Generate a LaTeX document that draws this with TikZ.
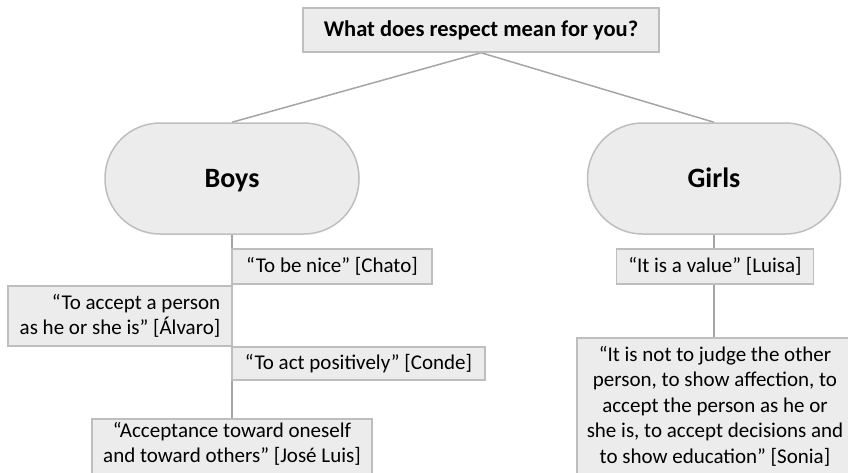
\documentclass[tikz,border=0pt]{standalone}
\usepackage{fontspec}
\setmainfont{Carlito}
\usetikzlibrary{backgrounds}
\definecolor{boxfill}{RGB}{236,236,236}
\definecolor{boxdraw}{RGB}{190,190,190}
\definecolor{linkcol}{RGB}{165,165,165}
\begin{document}
\begin{tikzpicture}[x=1pt,y=-1pt,
  box/.style={draw=boxdraw,fill=boxfill,line width=1.5pt,inner sep=0pt,rectangle},
  pill/.style={box,rounded corners=55pt,font=\fontsize{28}{34}\selectfont\bfseries,text height=18pt,text depth=0pt},
  quote/.style={box,font=\fontsize{21}{25.5}\selectfont,align=center},
  qtext/.style={inner sep=0pt,font=\fontsize{21}{25.5}\selectfont,align=center},
  link/.style={draw=linkcol,line width=1.5pt}]
\useasboundingbox (0,0) rectangle (848,472);
\clip (0,0) rectangle (848,472);

\node[box,minimum width=356pt,minimum height=44pt,font=\fontsize{22.5}{27}\selectfont\bfseries] (q) at (481,30) {What does respect mean for you?};
\node[pill,minimum width=254pt,minimum height=111pt] (boys) at (232,178.5) {Boys};
\node[pill,minimum width=253pt,minimum height=111pt] (girls) at (714,178.5) {Girls};

\node[quote,minimum width=200pt,minimum height=35pt] (chato) at (332,266.5) {“To be nice” [Chato]};
\node[quote,minimum width=224pt,minimum height=60pt,align=right] (alvaro) at (120,316) {“To accept a person\\as he or she is” [Álvaro]};
\node[quote,minimum width=253pt,minimum height=33pt] (conde) at (358.5,363.5) {“To act positively” [Conde]};
\node[box,minimum width=280pt,minimum height=80pt,anchor=north] (jose) at (232,418) {};
\node[qtext] (joseText) at (232,444) {“Acceptance toward oneself\\and toward others” [José Luis]};

\node[quote,minimum width=197pt,minimum height=35pt] (luisa) at (715,266.5) {“It is a value” [Luisa]};
\node[box,minimum width=276pt,minimum height=150pt,anchor=north] (sonia) at (715,337) {};
\node[qtext] (soniaText) at (715,406) {“It is not to judge the other\\person, to show affection, to\\accept the person as he or\\she is, to accept decisions and\\to show education” [Sonia]};

\begin{scope}[on background layer]
\draw[link] (q.south) -- (boys.north);
\draw[link] (q.south) -- (girls.north);
\draw[link] (boys.south) -- (jose.north);
\draw[link] (girls.south) -- (girls.south |- sonia.north);
\end{scope}
\end{tikzpicture}
\end{document}
